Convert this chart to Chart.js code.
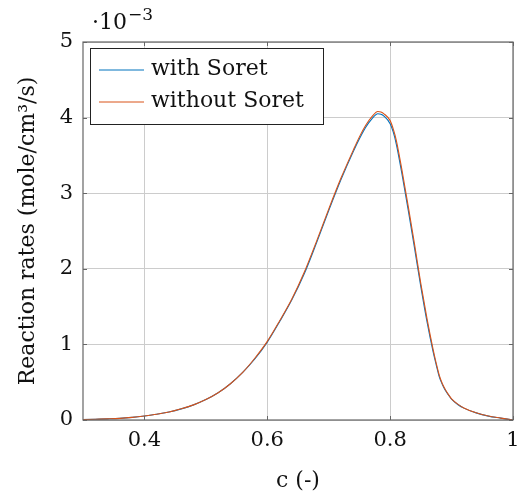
<!DOCTYPE html>
<html>
<head>
<meta charset="utf-8">
<script src="https://cdn.jsdelivr.net/npm/chart.js@4/dist/chart.umd.min.js"></script>
<style>
  html, body { margin: 0; padding: 0; background: #fff; }
  #wrap { width: 517px; height: 496px; position: relative; }
</style>
</head>
<body>
<div id="wrap"><canvas id="myChart"></canvas></div>
<script>
// concentration c (-)
var cValues = [0.3, 0.32, 0.34, 0.36, 0.38, 0.4, 0.42, 0.44, 0.46, 0.48, 0.5, 0.52, 0.54, 0.56, 0.58,
  0.6, 0.62, 0.64, 0.66, 0.68, 0.7, 0.72, 0.74, 0.75, 0.76, 0.77, 0.78, 0.785, 0.79, 0.8, 0.805, 0.81, 0.82, 0.83,
  0.84, 0.85, 0.86, 0.87, 0.875, 0.88, 0.885, 0.89, 0.895, 0.9, 0.91, 0.92, 0.94, 0.96, 0.98, 1.0];

// reaction rates, in units of 1e-3 mole/cm^3/s
var withSoret = [0.005, 0.01, 0.015, 0.022, 0.035, 0.053, 0.075, 0.105, 0.147, 0.2, 0.27, 0.36, 0.48, 0.63, 0.81,
  1.03, 1.3, 1.59, 1.93, 2.34, 2.77, 3.18, 3.55, 3.72, 3.87, 3.98, 4.05, 4.045, 4.02, 3.92, 3.81, 3.65, 3.22, 2.75,
  2.26, 1.76, 1.3, 0.9, 0.73, 0.57, 0.47, 0.39, 0.33, 0.275, 0.205, 0.157, 0.094, 0.051, 0.025, 0.0];
var withoutSoret = [0.005, 0.01, 0.015, 0.022, 0.035, 0.053, 0.075, 0.105, 0.148, 0.2, 0.27, 0.36, 0.48, 0.63, 0.82,
  1.04, 1.31, 1.6, 1.95, 2.36, 2.79, 3.2, 3.57, 3.745, 3.895, 4.01, 4.08, 4.075, 4.05, 3.96, 3.85, 3.7, 3.27, 2.8,
  2.31, 1.8, 1.34, 0.93, 0.75, 0.59, 0.48, 0.4, 0.335, 0.28, 0.21, 0.16, 0.095, 0.052, 0.025, 0.0];

var xTicks = [0.4, 0.6, 0.8, 1];
var yTicks = [0, 1, 2, 3, 4, 5];

var seriesNames = ['with Soret', 'without Soret'];
var seriesColors = ['#0072BD', '#D95319'];

var serif = "'DejaVu Serif', 'Liberation Serif', serif";

function toPoints(ys) {
  return cValues.map(function (c, i) { return { x: c, y: ys[i] }; });
}

// frame, inner tick marks, legend box and the exponent label
var decorations = {
  id: 'decorations',
  afterDatasetsDraw: function (chart) {
    var ctx = chart.ctx, a = chart.chartArea;
    var xs = chart.scales.x, ys = chart.scales.y;
    ctx.save();
    ctx.strokeStyle = '#666';
    ctx.lineWidth = 1;
    ctx.beginPath();
    xTicks.forEach(function (v) {
      var px = Math.round(xs.getPixelForValue(v)) + 0.5;
      ctx.moveTo(px, a.bottom); ctx.lineTo(px, a.bottom - 4);
      ctx.moveTo(px, a.top); ctx.lineTo(px, a.top + 4);
    });
    yTicks.forEach(function (v) {
      var py = Math.round(ys.getPixelForValue(v)) + 0.5;
      ctx.moveTo(a.left, py); ctx.lineTo(a.left + 4, py);
      ctx.moveTo(a.right, py); ctx.lineTo(a.right - 4, py);
    });
    ctx.stroke();
    ctx.lineWidth = 1.2;
    ctx.strokeRect(a.left, a.top, a.right - a.left, a.bottom - a.top);

    // legend
    var lx = a.left + 7, ly = a.top + 6, lw = 233, lh = 76;
    ctx.fillStyle = '#fff';
    ctx.fillRect(lx, ly, lw, lh);
    ctx.strokeStyle = '#222';
    ctx.lineWidth = 1;
    ctx.strokeRect(lx + 0.5, ly + 0.5, lw, lh);
    ctx.font = '22px ' + serif;
    ctx.textBaseline = 'middle';
    seriesNames.forEach(function (name, i) {
      var y = ly + 22 + i * 32;
      ctx.strokeStyle = seriesColors[i];
      ctx.beginPath();
      ctx.moveTo(lx + 9, y); ctx.lineTo(lx + 54, y);
      ctx.stroke();
      ctx.fillStyle = '#111';
      ctx.fillText(name, lx + 61, y - 1);
    });

    // scale factor above the y axis
    ctx.fillStyle = '#111';
    ctx.textBaseline = 'alphabetic';
    ctx.font = '22px ' + serif;
    ctx.fillText('\u00b710', a.left + 9, 29);
    var w = ctx.measureText('\u00b710').width;
    ctx.font = '17px ' + serif;
    ctx.fillText('\u22123', a.left + 9 + w + 1, 20);
    ctx.restore();
  }
};

var chart = new Chart(document.getElementById('myChart').getContext('2d'), {
  type: 'line',
  data: {
    datasets: [
      { label: seriesNames[0], data: toPoints(withSoret), borderColor: seriesColors[0], order: 1 },
      { label: seriesNames[1], data: toPoints(withoutSoret), borderColor: seriesColors[1], order: 0 }
    ]
  },
  options: {
    responsive: true,
    maintainAspectRatio: false,
    animation: false,
    layout: { padding: { left: 0, right: 4, top: 42, bottom: 0 } },
    elements: {
      point: { radius: 0 },
      line: { borderWidth: 1.1, cubicInterpolationMode: 'monotone', fill: false }
    },
    plugins: { legend: { display: false }, tooltip: { enabled: false } },
    scales: {
      x: {
        type: 'linear',
        min: 0.3,
        max: 1,
        afterBuildTicks: function (s) { s.ticks = xTicks.map(function (v) { return { value: v }; }); },
        afterFit: function (s) { s.height = 76; s.paddingLeft = 0; s.paddingRight = 0; },
        grid: { color: '#cccccc', drawTicks: false },
        border: { display: false },
        ticks: {
          padding: 8,
          color: '#111',
          font: { family: serif, size: 21 },
          maxRotation: 0,
          callback: function (v) { return v === 1 ? '1' : v.toFixed(1); }
        },
        title: { display: true, text: 'c (-)', color: '#111', font: { family: serif, size: 22 }, padding: { top: 4, bottom: 2 } }
      },
      y: {
        min: 0,
        max: 5,
        afterBuildTicks: function (s) { s.ticks = yTicks.map(function (v) { return { value: v }; }); },
        afterFit: function (s) { s.width = 83; },
        grid: { color: '#cccccc', drawTicks: false },
        border: { display: false },
        ticks: { padding: 10, color: '#111', font: { family: serif, size: 21 } },
        title: { display: true, text: 'Reaction rates (mole/cm\u00b3/s)', color: '#111', font: { family: serif, size: 22 }, padding: { top: 15, bottom: 0 } }
      }
    }
  },
  plugins: [decorations]
});
</script>
</body>
</html>
